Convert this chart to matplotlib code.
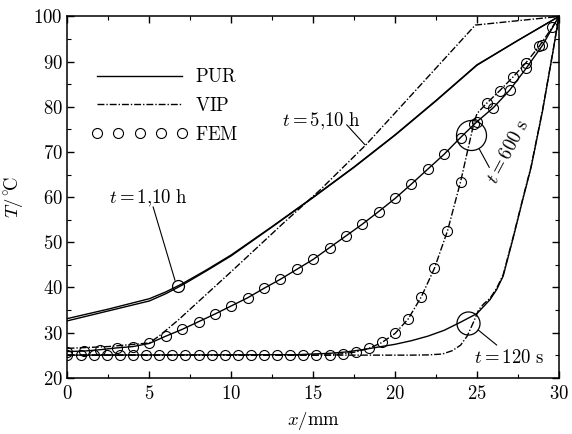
import matplotlib
matplotlib.use("Agg")
import matplotlib.pyplot as plt
from matplotlib.lines import Line2D
from matplotlib.ticker import MultipleLocator

plt.rcParams['font.family'] = 'serif'
plt.rcParams['font.serif'] = ['cmr10']
plt.rcParams['mathtext.fontset'] = 'cm'
plt.rcParams['axes.formatter.use_mathtext'] = True

FS = 13.5

# ---------------- data ----------------
# PUR, t = 1 h and t = 10 h (two nearly coincident solid lines)
pur_h_x = [0, 2.5, 5, 6, 7, 8.5, 10, 12.5, 15, 17.5, 20, 22.5, 25, 27.5, 30]
pur_1h_T = [33.1, 35.2, 37.5, 39.0, 40.8, 43.9, 47.2, 53.5, 60.0, 66.7, 73.8, 81.4, 89.3, 94.7, 100]
pur_10h_T = [32.6, 34.8, 37.0, 38.6, 40.5, 43.7, 47.0, 53.4, 59.9, 66.6, 73.7, 81.3, 89.2, 94.7, 100]

# VIP, t = 5 h and 10 h (dash-dot)
vip_h_x = [0, 2.5, 5, 5.65, 6.77, 10, 13.2, 15.4, 18.2, 21.5, 24.9, 30]
vip_h_T = [26.5, 26.9, 27.7, 29.4, 32.8, 43.5, 54.3, 61.5, 71.5, 84.6, 98.1, 100]

# PUR, t = 600 s (solid) and its FEM points
pur_600_x = [0, 1, 2, 3, 4, 5, 6, 7, 8, 9, 10, 11, 12, 13, 14, 15, 16, 17, 18, 19,
             20, 21, 22, 23, 24, 25, 26, 27, 28, 29, 30]
pur_600_T = [25.8, 25.9, 26.2, 26.6, 26.9, 27.6, 29.2, 30.7, 32.4, 34.1, 35.9, 37.7,
             39.8, 41.8, 44.0, 46.2, 48.8, 51.4, 54.0, 56.8, 59.7, 62.9, 66.2, 69.5,
             73.2, 76.7, 79.8, 83.7, 88.5, 93.6, 100]
fem_pur_600_x = pur_600_x[:-1]
fem_pur_600_T = pur_600_T[:-1]

# VIP, t = 600 s (dash-dot) and its FEM points
fem_vip_600_x = [0, 0.8, 1.6, 2.4, 3.2, 4.0, 4.8, 5.6, 6.4, 7.2, 8.0, 8.8, 9.6, 10.4,
                 11.2, 12.0, 12.8, 13.6, 14.4, 15.2, 16.0, 16.8, 17.6, 18.4, 19.2,
                 20.0, 20.8, 21.6, 22.4, 23.2, 24.0, 24.8, 25.6, 26.4, 27.2, 28.0,
                 28.8, 29.6]
fem_vip_600_T = [25.0, 25.0, 25.0, 25.0, 25.0, 25.0, 25.0, 25.0, 25.0, 25.0, 25.0,
                 25.0, 25.0, 25.0, 25.0, 25.0, 25.0, 25.0, 25.0, 25.0, 25.0, 25.3,
                 25.7, 26.5, 27.8, 29.8, 33.0, 37.9, 44.2, 52.5, 63.4, 76.2, 80.8,
                 83.6, 86.6, 89.8, 93.4, 97.6]
vip_600_x = [0, 16.0, 16.8, 17.6, 18.4, 19.2, 20.0, 20.8, 21.6, 22.4, 23.2, 24.0,
             24.8, 25.0, 25.6, 26.4, 27.2, 28.0, 28.8, 29.6, 30]
vip_600_T = [25.0, 25.0, 25.3, 25.7, 26.5, 27.8, 29.8, 33.0, 37.9, 44.2, 52.5, 63.4,
             76.2, 78.5, 80.8, 83.6, 86.6, 89.8, 93.4, 97.6, 100]

# PUR, t = 120 s (solid)
pur_120_x = [0, 14, 16, 17, 18, 19, 20, 21, 22, 23, 24, 25, 25.8, 26.2, 26.6, 27.2,
             27.8, 28.3, 29, 29.66, 30]
pur_120_T = [25.0, 25.1, 25.4, 25.7, 26.2, 26.8, 27.4, 28.2, 29.2, 30.5, 32.3, 34.2,
             37.3, 39.5, 42.5, 50.8, 59.5, 66.5, 79.0, 92.6, 100]

# VIP, t = 120 s (dash-dot)
vip_120_x = [0, 21, 22, 22.9, 23.5, 24, 24.4, 24.8, 25.1, 25.4, 25.8, 26.2, 26.6,
             27.2, 27.8, 28.3, 29, 29.66, 30]
vip_120_T = [25.0, 25.0, 25.05, 25.25, 26.0, 27.2, 29.2, 32.4, 35.0, 36.3, 37.6,
             39.8, 42.8, 51.0, 59.7, 66.7, 79.2, 92.7, 100]

x_ticks = [0, 5, 10, 15, 20, 25, 30]
y_ticks = [20, 30, 40, 50, 60, 70, 80, 90, 100]

# ---------------- figure ----------------
fig = plt.figure(figsize=(5.72, 4.34), dpi=100)
ax = fig.add_axes([0.118, 0.1297, 0.859, 0.8323])

lw = 1.0
dd = (5, 1.4, 1.0, 1.4)

ax.plot(pur_h_x, pur_1h_T, '-', color='k', lw=lw)
ax.plot(pur_h_x, pur_10h_T, '-', color='k', lw=lw)
ax.plot(vip_h_x, vip_h_T, color='k', lw=lw, dashes=dd)
ax.plot(pur_600_x, pur_600_T, '-', color='k', lw=lw)
ax.plot(vip_600_x, vip_600_T, color='k', lw=lw, dashes=dd)
ax.plot(pur_120_x, pur_120_T, '-', color='k', lw=lw)
ax.plot(vip_120_x, vip_120_T, color='k', lw=lw, dashes=dd)

mk = dict(linestyle='none', marker='o', markersize=7.2, markerfacecolor='none',
          markeredgecolor='k', markeredgewidth=0.8)
ax.plot(fem_pur_600_x, fem_pur_600_T, **mk)
ax.plot(fem_vip_600_x, fem_vip_600_T, **mk)

# annotation circles and leader lines
circ = dict(linestyle='none', marker='o', markerfacecolor='none',
            markeredgecolor='k', markeredgewidth=0.9)
ax.plot([6.76], [40.3], markersize=8.6, **circ)
ax.plot([5.23, 6.56], [57.8, 41.6], '-', color='k', lw=0.8)
ax.text(4.92, 59.8, r'$t=1{,}10\ \mathrm{h}$', fontsize=FS, ha='center', va='center')

ax.plot([17.05, 18.16], [76.0, 71.6], '-', color='k', lw=0.8)
ax.text(15.5, 76.8, r'$t=5{,}10\ \mathrm{h}$', fontsize=FS, ha='center', va='center')

ax.plot([24.63], [73.8], markersize=21.6, **circ)
ax.plot([25.15, 25.75], [70.6, 66.6], '-', color='k', lw=0.8)
ax.text(26.9, 70.0, r'$t=600\ \mathrm{s}$', fontsize=FS, ha='center', va='center',
        rotation=62, rotation_mode='anchor')

ax.plot([24.47], [32.05], markersize=16.6, **circ)
ax.plot([25.08, 26.2], [30.56, 27.25], '-', color='k', lw=0.8)
ax.text(26.95, 24.4, r'$t=120\ \mathrm{s}$', fontsize=FS, ha='center', va='center')

ax.set_xlim(0, 30)
ax.set_ylim(20, 100)
ax.set_xticks(x_ticks)
ax.set_yticks(y_ticks)
ax.xaxis.set_minor_locator(MultipleLocator(2.5))
ax.yaxis.set_minor_locator(MultipleLocator(5))
ax.tick_params(which='both', direction='in', top=True, right=True, labelsize=FS)
ax.tick_params(which='major', length=5, width=1.0)
ax.tick_params(which='minor', length=3, width=0.8)
ax.tick_params(axis='x', which='major', pad=5)
ax.tick_params(axis='y', which='major', pad=3.5)
for s in ax.spines.values():
    s.set_linewidth(1.1)

ax.set_xlabel(r'$x/\mathrm{mm}$', fontsize=FS, labelpad=5)
ax.set_ylabel(r'$T/^{\circ}\!\mathrm{C}$', fontsize=FS, labelpad=6)

handles = [Line2D([], [], color='k', lw=lw),
           Line2D([], [], color='k', lw=lw, dashes=dd),
           Line2D([], [], **mk)]
leg = ax.legend(handles, [r'$\mathrm{PUR}$', r'$\mathrm{VIP}$', r'$\mathrm{FEM}$'],
                loc='upper left', bbox_to_anchor=(0.048, 0.857), frameon=False,
                fontsize=FS, handlelength=5.17, handletextpad=0.37,
                labelspacing=0.58, borderpad=0, borderaxespad=0, numpoints=5)

fig.savefig('out.png', dpi=100)
